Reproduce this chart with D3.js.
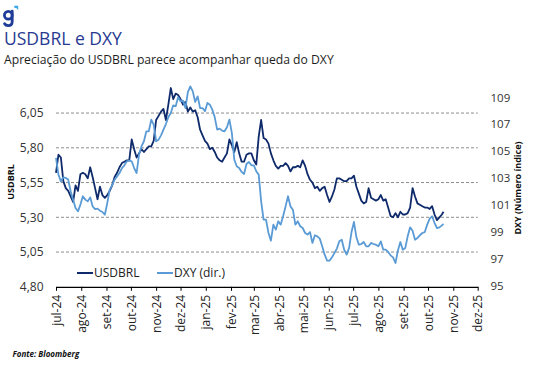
<!DOCTYPE html>
<html><head><meta charset="utf-8">
<script src="https://cdn.jsdelivr.net/npm/d3@7/dist/d3.min.js"></script>
<style>
html,body{margin:0;padding:0;background:#fff;}
svg{display:block;}
</style></head>
<body>
<svg id="chart" width="550" height="368"></svg>
<script>
const dates = [
"2024-07-01","2024-07-04","2024-07-07","2024-07-10","2024-07-13","2024-07-16","2024-07-19","2024-07-22","2024-07-25","2024-07-28","2024-07-31",
"2024-08-03","2024-08-06","2024-08-09","2024-08-12","2024-08-15","2024-08-18","2024-08-21","2024-08-24","2024-08-27","2024-08-30",
"2024-09-02","2024-09-05","2024-09-08","2024-09-11","2024-09-14","2024-09-17","2024-09-20","2024-09-23","2024-09-26","2024-09-29",
"2024-10-02","2024-10-05","2024-10-08","2024-10-11","2024-10-14","2024-10-17","2024-10-20","2024-10-23","2024-10-26","2024-10-29",
"2024-11-01","2024-11-04","2024-11-07","2024-11-10","2024-11-13","2024-11-16","2024-11-19","2024-11-22","2024-11-25","2024-11-28",
"2024-12-01","2024-12-04","2024-12-07","2024-12-10","2024-12-13","2024-12-16","2024-12-19","2024-12-22","2024-12-25","2024-12-28","2024-12-31",
"2025-01-03","2025-01-06","2025-01-09","2025-01-12","2025-01-15","2025-01-18","2025-01-21","2025-01-24","2025-01-27","2025-01-30",
"2025-02-02","2025-02-05","2025-02-08","2025-02-11","2025-02-14","2025-02-17","2025-02-20","2025-02-23","2025-02-26",
"2025-03-01","2025-03-04","2025-03-07","2025-03-10","2025-03-13","2025-03-16","2025-03-19","2025-03-22","2025-03-25","2025-03-28","2025-03-31",
"2025-04-03","2025-04-06","2025-04-09","2025-04-12","2025-04-15","2025-04-18","2025-04-21","2025-04-24","2025-04-27","2025-04-30",
"2025-05-03","2025-05-06","2025-05-09","2025-05-12","2025-05-15","2025-05-18","2025-05-21","2025-05-24","2025-05-27","2025-05-30",
"2025-06-02","2025-06-05","2025-06-08","2025-06-11","2025-06-14","2025-06-17","2025-06-20","2025-06-23","2025-06-26","2025-06-29",
"2025-07-02","2025-07-05","2025-07-08","2025-07-11","2025-07-14","2025-07-17","2025-07-20","2025-07-23","2025-07-26","2025-07-29",
"2025-08-01","2025-08-04","2025-08-07","2025-08-10","2025-08-13","2025-08-16","2025-08-19","2025-08-22","2025-08-25","2025-08-28","2025-08-31",
"2025-09-03","2025-09-06","2025-09-09","2025-09-12","2025-09-15","2025-09-18","2025-09-21","2025-09-24","2025-09-27","2025-09-30",
"2025-10-03","2025-10-06","2025-10-09","2025-10-12","2025-10-15","2025-10-18","2025-10-20"
];

const usdbrl = [
5.62,5.75,5.73,5.56,5.51,5.49,5.45,5.41,5.53,5.49, 5.61,5.62,5.61,5.58,5.66,5.59,5.51,5.43,5.52,5.46,
5.44,5.46,5.49,5.53,5.59,5.62,5.66,5.69,5.70,5.71, 5.71,5.86,5.79,5.73,5.76,5.79,5.77,5.79,5.81,5.81, 5.85,
6.00,6.03,6.06,6.08,6.00,6.11,6.23,6.15,6.19,6.18, 6.15,6.11,6.13,6.06,6.09,6.06,6.07,6.02,5.93,5.89,
5.85,5.83,5.79,5.80,5.77,5.73,5.71,5.70,5.73,5.76, 5.86,5.82,5.77,5.84,5.76,5.70,5.70,5.75,5.76,
5.76,5.71,5.68,5.88,6.00,5.87,5.86,5.83,5.76,5.71, 5.67,5.65,5.67,5.67,5.69,5.67,5.63,5.66,5.66,5.67,
5.66,5.71,5.67,5.61,5.57,5.55,5.51,5.52,5.49,5.51, 5.52,5.46,5.41,5.45,5.50,5.58,5.58,5.57,5.56,
5.56,5.58,5.58,5.60,5.52,5.47,5.42,5.40,5.41,5.51, 5.44,5.43,5.42,5.43,5.46,5.42,5.43,5.37,5.31,5.30,
5.33,5.30,5.34,5.32,5.32,5.33,5.37,5.51,5.45,5.40, 5.39,5.38,5.37,5.37,5.36,5.38,5.32,5.28,5.30,5.32, 5.34
];

const dxy = [
104.58,103.34,102.84,103.14,103.09,102.97,102.10,101.48,100.86,100.61, 101.11,101.73,101.48,101.35,101.65,100.98,100.78,100.81,100.66,100.56,
100.36,101.23,102.22,102.54,102.97,103.21,103.46,103.83,104.03,104.33, 104.38,104.33,103.83,103.46,104.82,105.44,105.82,106.56,106.56,107.43, 107.05,
105.82,105.94,106.26,106.68,107.10,107.60,107.92,108.49,108.42,109.09, 108.79,108.84,108.29,109.48,109.90,109.53,108.74,109.16,108.29,108.29,
108.05,108.67,108.54,108.17,107.60,106.68,106.76,106.61,106.56,106.86, 107.43,106.44,104.45,103.96,103.83,103.54,103.39,104.13,104.28,
104.03,104.03,103.59,103.34,101.35,99.99,99.99,99.00,98.43,99.62, 99.25,99.87,99.62,100.24,100.98,101.73,100.98,100.73,99.62,99.87,
99.50,99.37,99.00,98.88,99.07,98.26,98.83,98.75,98.58,98.01, 97.39,96.94,96.94,97.19,97.51,97.84,98.38,98.50,97.76,
97.39,97.88,99.07,99.82,98.68,98.13,98.18,98.33,98.01,98.01, 98.26,98.18,98.13,98.01,98.38,97.76,97.76,97.59,97.34,97.19,
96.77,97.69,98.33,97.76,97.88,98.75,99.42,99.17,98.50,98.63, 98.83,99.00,99.07,99.62,100.07,100.24,99.74,99.37,99.42,99.57, 99.67
];

const leftTicks = [4.80, 5.05, 5.30, 5.55, 5.80, 6.05];
const rightTicks = [95, 97, 99, 101, 103, 105, 107, 109];
const monthLabels = ["jul-24","ago-24","set-24","out-24","nov-24","dez-24","jan-25","fev-25","mar-25","abr-25","mai-25","jun-25","jul-25","ago-25","set-25","out-25","nov-25","dez-25"];
const seriesNames = ["USDBRL", "DXY (dir.)"];
const titleText = "USDBRL e DXY";
const subtitleText = "Apreciação do USDBRL parece acompanhar queda do DXY";
const leftAxisTitle = "USDBRL";
const rightAxisTitle = "DXY (Número índice)";
const sourceText = "Fonte: Bloomberg";

const parse = d3.timeParse("%Y-%m-%d");
const data = dates.map((d, i) => ({date: parse(d), brl: usdbrl[i], dxy: dxy[i]}));

const svg = d3.select("#chart");
const m = {left: 56, right: 477.7, top: 78.3, bottom: 286.8};

const x = d3.scaleTime().domain([parse("2024-07-01"), parse("2025-12-01")]).range([m.left, m.right]);
const yL = d3.scaleLinear().domain([4.80, 6.30]).range([m.bottom, m.top]);
const yR = d3.scaleLinear().domain([95, 110.5]).range([m.bottom, m.top]);

const DARK = "#0e2a6b", LIGHT = "#5b9bd5";
const FONT = "'Open Sans', 'Noto Sans', sans-serif";

function fitWidth(sel, target) {
  const node = sel.node();
  const fs = parseFloat(sel.attr("font-size"));
  const w = node.getComputedTextLength();
  if (w > 0) sel.attr("font-size", (fs * target / w).toFixed(2));
}

// logo mark (graphic)
const logo = svg.append("g").attr("fill", "none").attr("stroke", "#1f3c98").attr("stroke-width", 2.8).attr("stroke-linecap", "round");
logo.append("circle").attr("cx", 8.3).attr("cy", 15.2).attr("r", 3.9);
logo.append("path").attr("d", "M12.2,11.2 L12.2,21.5 Q12.2,25.6 8.2,25.6 Q5.6,25.6 4.6,23.8");
svg.append("path").attr("d", "M14.3,5.8 L18.2,5.8 L18.2,10.6 Q17.6,8 14.3,7.8 Z").attr("fill", "#38a9e8");

// title
const t = svg.append("text").attr("x", 4).attr("y", 45).attr("font-family", FONT)
  .attr("font-size", 18).attr("fill", "#283a91").text(titleText);
fitWidth(t, 118);
const st = svg.append("text").attr("x", 4).attr("y", 63.5).attr("font-family", FONT)
  .attr("font-size", 12).attr("fill", "#1e1e1e").text(subtitleText);
fitWidth(st, 330);

// gridlines
svg.append("g").selectAll("line").data(leftTicks.filter(v => v > 4.80)).join("line")
  .attr("x1", m.left).attr("x2", m.right)
  .attr("y1", d => yL(d)).attr("y2", d => yL(d))
  .attr("stroke", "#8c8c8c").attr("stroke-width", 1).attr("stroke-dasharray", "3,2");

// left axis labels
svg.append("g").selectAll("text").data(leftTicks).join("text")
  .attr("x", 43.5).attr("y", d => yL(d)).attr("dy", "0.35em").attr("text-anchor", "end")
  .attr("font-family", FONT).attr("font-size", 12).attr("fill", "#333")
  .text(d => d3.format(".2f")(d).replace(".", ","));

// right axis labels
svg.append("g").selectAll("text").data(rightTicks).join("text")
  .attr("x", 490.5).attr("y", d => yR(d) - 1).attr("dy", "0.35em").attr("text-anchor", "start")
  .attr("font-family", FONT).attr("font-size", 11.5).attr("fill", "#333")
  .text(d => d);

// axis titles
svg.append("text").attr("transform", `translate(14,182) rotate(-90)`).attr("text-anchor", "middle")
  .attr("font-family", FONT).attr("font-weight", 700).attr("font-size", 9).attr("fill", "#111").text(leftAxisTitle);
svg.append("text").attr("transform", `translate(521,188) rotate(-90)`).attr("text-anchor", "middle")
  .attr("font-family", FONT).attr("font-weight", 700).attr("font-size", 9).attr("fill", "#111").text(rightAxisTitle);

// x axis
const tickDates = d3.timeMonth.range(parse("2024-07-01"), parse("2025-12-02"));
const xAxis = d3.axisBottom(x).tickValues(tickDates).tickFormat((d, i) => monthLabels[i]).tickSize(4).tickSizeOuter(0);
const gx = svg.append("g").attr("transform", `translate(0,${m.bottom})`).call(xAxis);
gx.select(".domain").attr("stroke", "#000").attr("stroke-width", 1.2);
gx.selectAll(".tick line").attr("stroke", "#000").attr("stroke-width", 1);
gx.selectAll(".tick text").attr("font-family", FONT).attr("font-size", 12).attr("fill", "#222")
  .attr("transform", "rotate(-90)").attr("text-anchor", "end").attr("x", -8).attr("y", 0).attr("dy", "0.35em");

// lines
const lineBrl = d3.line().x(d => x(d.date)).y(d => yL(d.brl));
const lineDxy = d3.line().x(d => x(d.date)).y(d => yR(d.dxy));
svg.append("path").datum(data).attr("d", lineBrl).attr("fill", "none")
  .attr("stroke", DARK).attr("stroke-width", 1.8).attr("stroke-linejoin", "round");
svg.append("path").datum(data).attr("d", lineDxy).attr("fill", "none")
  .attr("stroke", LIGHT).attr("stroke-width", 1.8).attr("stroke-linejoin", "round");

// legend
const legend = svg.append("g").attr("font-family", FONT).attr("font-size", 12).attr("fill", "#222");
const legItems = [{name: seriesNames[0], color: DARK, x: 77}, {name: seriesNames[1], color: LIGHT, x: 157}];
legItems.forEach(it => {
  legend.append("line").attr("x1", it.x).attr("x2", it.x + 16).attr("y1", 273).attr("y2", 273)
    .attr("stroke", it.color).attr("stroke-width", 2);
  legend.append("text").attr("x", it.x + 17).attr("y", 273).attr("dy", "0.35em").text(it.name);
});

// source
svg.append("text").attr("x", 12.5).attr("y", 357).attr("font-family", FONT).attr("font-weight", 700)
  .attr("font-style", "italic").attr("font-size", 8).attr("fill", "#111").text(sourceText);
</script>
</body></html>
